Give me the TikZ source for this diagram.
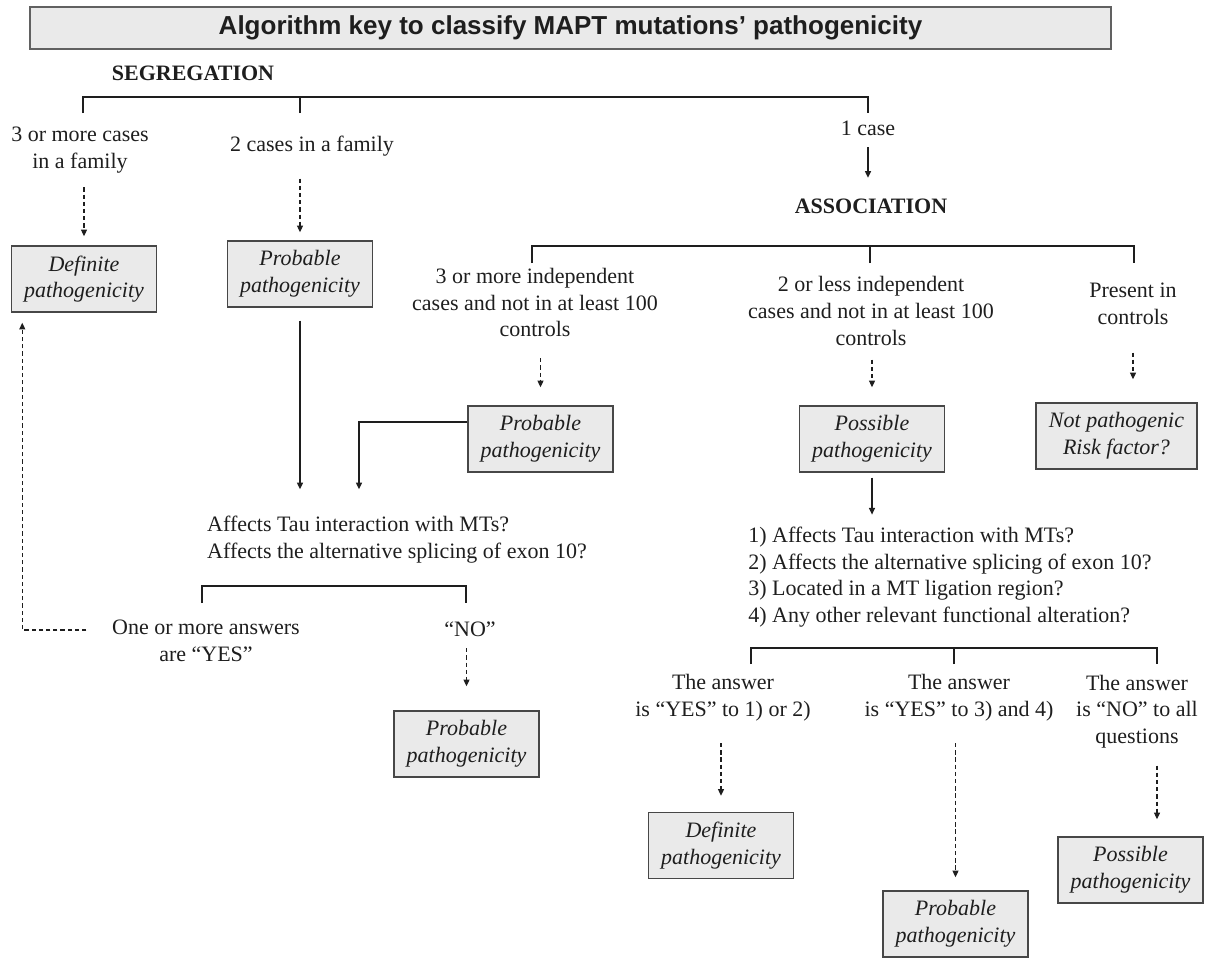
\documentclass[tikz,border=0pt]{standalone}
\usepackage{fontspec}
\setmainfont{Liberation Serif}
\newfontfamily\headfont{Liberation Sans}
\usetikzlibrary{arrows.meta,calc}
\definecolor{boxfill}{RGB}{234,234,234}
\definecolor{ink}{RGB}{30,30,30}
\begin{document}
\begin{tikzpicture}[x=0.75pt,y=-0.75pt,
  txt/.style={font=\fontsize{16.5}{20}\selectfont},
  every node/.style={txt, text=ink, inner sep=2pt},
  lbl/.style={align=center},
  hdr/.style={font=\fontsize{16.5}{20}\selectfont\bfseries},
  verdict/.style={draw=black!72, line width=1.1pt, fill=boxfill,
    minimum width=108.75pt, minimum height=49.5pt, align=center,
    font=\fontsize{16.5}{20}\selectfont\itshape},
  link/.style={draw=ink, line width=0.95pt},
  sarr/.style={link, -{Triangle[length=5pt,width=4.5pt]}},
  darr/.style={sarr, line width=0.8pt, dash pattern=on 3.2pt off 2.2pt},
]
\useasboundingbox (0,0) rectangle (1212,958);

% heading
\node[draw=black!62, line width=1.5pt, fill=boxfill, minimum width=810.75pt,
  minimum height=31.5pt, font=\headfont\bfseries\fontsize{19.5}{22}\selectfont]
  (title) at (570.5,28) {Algorithm key to classify MAPT mutations’ pathogenicity};

% ---------- segregation ----------
\node[hdr] (seg) at (193,73.5) {SEGREGATION};
\coordinate (sbar) at (0,97);
\coordinate (s1) at (83,113);
\coordinate (s2) at (300,113);
\coordinate (s3) at (868,113);
\draw[link] (s1) -- (s1 |- sbar) -- (s3 |- sbar) -- (s3);
\draw[link] (s2) -- (s2 |- sbar);

\node[lbl] (seg3) at (80,150) {3 or more cases\\in a family};
\node[lbl] (seg2) at (312,146) {2 cases in a family};
\node[lbl] (seg1) at (868,128.5) {1 case};

\node[verdict] (defA) at (84,279) {Definite\\pathogenicity};
\node[verdict] (probA) at (300,274) {Probable\\pathogenicity};

\draw[darr, shorten <=8.6pt, shorten >=6.75pt] (seg3.south -| defA.north) -- (defA.north);
\draw[darr, shorten <=14.6pt, shorten >=6pt] (seg2.south -| probA.north) -- (probA.north);

% ---------- association ----------
\node[hdr] (assoc) at (871,206.5) {ASSOCIATION};
\draw[sarr, shorten <=6.2pt, shorten >=13.8pt] (seg1.south) -- (seg1.south |- assoc.north);

\coordinate (abar) at (0,246);
\coordinate (a1) at (532,263);
\coordinate (a2) at (870,263);
\coordinate (a3) at (1134,263);
\draw[link] (a1) -- (a1 |- abar) -- (a3 |- abar) -- (a3);
\draw[link] (a2) -- (a2 |- abar);

\node[lbl] (as3) at (535,302.5) {3 or more independent\\cases and not in at least 100\\controls};
\node[lbl] (as2) at (871,311) {2 or less independent\\cases and not in at least 100\\controls};
\node[lbl] (as1) at (1133,303.5) {Present in\\controls};

\node[verdict] (probB) at (540.5,439) {Probable\\pathogenicity};
\node[verdict] (possB) at (872,439) {Possible\\pathogenicity};
\node[verdict, minimum width=120.75pt] (notP) at (1116.5,436) {Not pathogenic\\Risk factor?};

\draw[darr, shorten <=13.7pt, shorten >=13.5pt] (as3.south -| probB.north) -- (probB.north);
\draw[darr, shorten <=8.5pt, shorten >=13.5pt] (as2.south -| possB.north) -- (possB.north);
\draw[darr, shorten <=19pt, shorten >=17.25pt] (as1.south) -- (as1.south |- notP.north);

% ---------- functional questions, left branch ----------
\node[align=left] (q1) at (397,539.9) {Affects Tau interaction with MTs?\\Affects the alternative splicing of exon 10?};

\draw[sarr, shorten <=9.75pt, shorten >=18.2pt] (probA.south) -- (probA.south |- q1.north);
\draw[sarr, shorten >=18.2pt] ($(probB.west)+(0,-17)$) -| ($(q1.north)+(-38,0)$);

\coordinate (bbar) at (0,586);
\coordinate (b1) at (202,603);
\coordinate (b2) at (466,603);
\draw[link] (b1) -- (b1 |- bbar) -- (b2 |- bbar) -- (b2);

\node[lbl] (yes) at (206,640.5) {One or more answers\\are “YES”};
\node[lbl] (no) at (470,629.5) {“NO”};
\node[verdict] (probC) at (466.5,744) {Probable\\pathogenicity};

\draw[darr, shorten <=6.2pt, shorten >=18pt] (no.south -| probC.north) -- (probC.north);
\draw[darr] ($(yes.west)+(-23,-10.5)$) -| ($(defA.south west)+(11.5,10)$);

% ---------- functional questions, right branch ----------
\node[align=left] (q2) at (950,577) {1) Affects Tau interaction with MTs?\\2) Affects the alternative splicing of exon 10?\\3) Located in a MT ligation region?\\4) Any other relevant functional alteration?};
\draw[sarr, shorten <=3.75pt, shorten >=7pt] (possB.south) -- (possB.south |- q2.north);

\coordinate (cbar) at (0,648);
\coordinate (c1) at (751,664);
\coordinate (c2) at (954,664);
\coordinate (c3) at (1157,664);
\draw[link] (c1) -- (c1 |- cbar) -- (c3 |- cbar) -- (c3);
\draw[link] (c2) -- (c2 |- cbar);

\node[lbl] (r1) at (723,697.5) {The answer\\is “YES” to 1) or 2)};
\node[lbl] (r2) at (959,697.5) {The answer\\is “YES” to 3) and 4)};
\node[lbl] (r3) at (1137,711.4) {The answer\\is “NO” to all\\questions};

\node[verdict] (defC) at (721,845.5) {Definite\\pathogenicity};
\node[verdict] (probD) at (955.5,924) {Probable\\pathogenicity};
\node[verdict] (possD) at (1130.5,870) {Possible\\pathogenicity};

\draw[darr, shorten <=14.5pt, shorten >=12pt] (r1.south -| defC.north) -- (defC.north);
\draw[darr, shorten <=14.5pt, shorten >=9.75pt] (r2.south -| probD.north) -- (probD.north);
\draw[darr, shorten <=10.9pt, shorten >=12.75pt] (r3.south -| c3) -- (c3 |- possD.north);
\end{tikzpicture}
\end{document}
